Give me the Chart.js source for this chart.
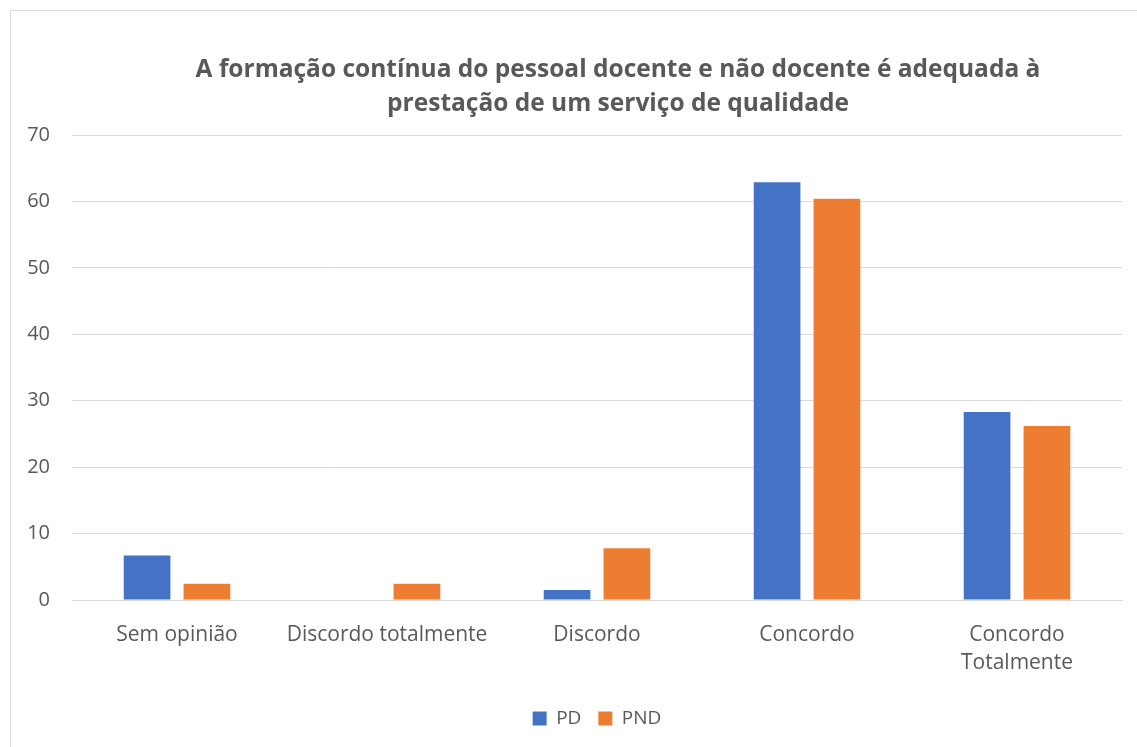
<!DOCTYPE html>
<html>
<head>
<meta charset="utf-8">
<script src="https://cdn.jsdelivr.net/npm/chart.js@4"></script>
<style>
html,body{margin:0;padding:0;background:#fff;overflow:hidden;width:1137px;height:747px;}
#wrap{position:absolute;left:10px;top:10px;width:1230px;height:762px;border:1px solid #d9d9d9;box-sizing:border-box;background:#fff;}
canvas{display:block;}
</style>
</head>
<body>
<div id="wrap"><canvas id="c" width="1228" height="760"></canvas></div>
<script>
const categories = ["Sem opinião", "Discordo totalmente", "Discordo", "Concordo", ["Concordo", "Totalmente"]];
const seriesNames = ["PD", "PND"];
const pdValues = [6.7, 0, 1.5, 62.9, 28.3];
const pndValues = [2.45, 2.45, 7.8, 60.4, 26.2];
const yTicks = [0, 10, 20, 30, 40, 50, 60, 70];
const titleLines = ["A formação contínua do pessoal docente e não docente é adequada à", "prestação de um serviço de qualidade"];

const FONT = "'Open Sans', sans-serif";
const GREY = "#595959";

const titlePlugin = {
  id: 'customTitle',
  afterDraw(chart) {
    const ctx = chart.ctx;
    ctx.save();
    ctx.font = "bold 24.5px 'Open Sans', sans-serif";
    ctx.fillStyle = GREY;
    ctx.textAlign = 'center';
    ctx.textBaseline = 'middle';
    titleLines.forEach((t, i) => ctx.fillText(t, 607, 59 + 34 * i));
    ctx.restore();
  }
};

new Chart(document.getElementById('c'), {
  type: 'bar',
  data: {
    labels: categories,
    datasets: [
      { label: seriesNames[0], data: pdValues, backgroundColor: '#4472c4', categoryPercentage: 0.57, barPercentage: 0.78 },
      { label: seriesNames[1], data: pndValues, backgroundColor: '#ed7d31', categoryPercentage: 0.57, barPercentage: 0.78 }
    ]
  },
  plugins: [titlePlugin],
  options: {
    responsive: false,
    animation: false,
    layout: { padding: { left: 0, right: 117, top: 124, bottom: 33 } },
    plugins: {
      title: { display: false },
      legend: {
        position: 'bottom',
        fullSize: false,
        labels: {
          color: GREY,
          font: { family: FONT, size: 19 },
          boxWidth: 14,
          boxHeight: 14,
          padding: 17
        }
      },
      tooltip: { enabled: false }
    },
    scales: {
      x: {
        grid: { display: false, drawTicks: false },
        border: { color: '#d9d9d9', width: 1 },
        ticks: { color: GREY, font: { family: FONT, size: 21, lineHeight: 1.333 }, padding: 21, maxRotation: 0, autoSkip: false },
        afterFit: (s) => { s.paddingLeft = 0; s.paddingRight = 0; s.height = s.height - 6; }
      },
      y: {
        min: 0, max: 70,
        afterBuildTicks: (axis) => { axis.ticks = yTicks.map(v => ({ value: v })); },
        grid: { color: '#d9d9d9', lineWidth: 1, drawTicks: false },
        border: { display: false },
        ticks: { color: GREY, font: { family: FONT, size: 20 }, padding: 22 },
        afterFit: (s) => { s.width = 61; }
      }
    }
  }
});
</script>
</body>
</html>
